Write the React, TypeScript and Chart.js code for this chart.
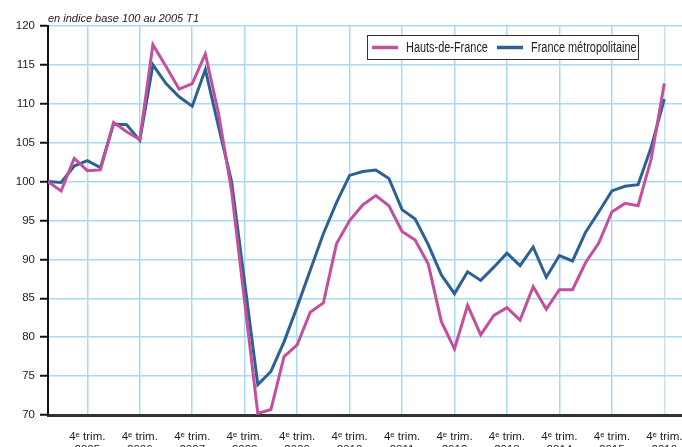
import React, { useEffect, useRef } from 'react';
import { Chart, registerables } from 'chart.js';

Chart.register(...registerables);

// ---- Data -------------------------------------------------------------
const years = ['2005', '2006', '2007', '2008', '2009', '2010', '2011', '2012', '2013', '2014', '2015', '2016'];
const quarterLabel = '4ᵉ trim.';
const seriesNames = ['Hauts-de-France', 'France métropolitaine'];
const unitNote = 'en indice base 100 au 2005 T1';

// quarterly index, 2005 T1 .. 2016 T4
const hautsDeFrance = [
  100, 98.8, 103.0, 101.4, 101.5, 107.6, 106.4, 105.4,
  117.6, 114.8, 111.9, 112.6, 116.4, 108.8, 98.8, 84.5,
  70.2, 70.7, 77.5, 79.0, 83.2, 84.4, 92.0, 95.0,
  97.0, 98.2, 96.9, 93.6, 92.5, 89.4, 82.0, 78.5,
  84.1, 80.3, 82.8, 83.8, 82.2, 86.5, 83.6, 86.1,
  86.1, 89.6, 92.1, 96.1, 97.2, 96.9, 102.9, 112.6,
];
const franceMetro = [
  100, 99.9, 102.0, 102.7, 101.8, 107.4, 107.3, 105.3,
  115.0, 112.6, 110.9, 109.7, 114.4, 107.1, 100.0, 87.0,
  73.9, 75.6, 79.4, 83.9, 88.6, 93.3, 97.3, 100.8,
  101.3, 101.5, 100.4, 96.4, 95.2, 91.9, 88.0, 85.6,
  88.4, 87.3, 89.0, 90.8, 89.2, 91.6, 87.7, 90.5,
  89.8, 93.5, 96.1, 98.8, 99.4, 99.6, 104.4, 110.6,
];
const yMin = 70;
const yMax = 120;
const yStep = 5;

// ---- Styles -----------------------------------------------------------
const FONT = '"Liberation Sans", Arial, Helvetica, sans-serif';
const PINK = '#c2509c';
const BLUE = '#2e6193';
const GRID = '#a9d9f3';
const W = 682;
const H = 470;

function narrowText(ctx: CanvasRenderingContext2D, text: string, x: number, y: number, sx: number) {
  ctx.save();
  ctx.translate(x, y);
  ctx.scale(sx, 1);
  ctx.fillText(text, 0, 0);
  ctx.restore();
}

const overlayPlugin = {
  id: 'overlay',
  afterDraw(chart: any) {
    const ctx = chart.ctx as CanvasRenderingContext2D;
    const ca = chart.chartArea;
    ctx.save();
    // unit note
    ctx.font = `italic 11px ${FONT}`;
    ctx.fillStyle = '#222';
    ctx.textAlign = 'left';
    ctx.textBaseline = 'alphabetic';
    ctx.fillText(unitNote, ca.left, 22);

    // legend box
    const bx = 367.5, by = 35.5, bw = 271, bh = 24;
    ctx.fillStyle = '#fff';
    ctx.fillRect(bx, by, bw, bh);
    ctx.strokeStyle = '#333';
    ctx.lineWidth = 1;
    ctx.strokeRect(bx, by, bw, bh);

    const items = chart.data.datasets.map((d: any) => ({ label: d.label, color: d.borderColor }));
    const starts = [372, 497];
    ctx.font = `14px ${FONT}`;
    ctx.textBaseline = 'middle';
    items.forEach((it: any, i: number) => {
      const x0 = starts[i];
      const yc = by + bh / 2;
      ctx.strokeStyle = it.color;
      ctx.lineWidth = 3.5;
      ctx.beginPath();
      ctx.moveTo(x0, yc);
      ctx.lineTo(x0 + 26, yc);
      ctx.stroke();
      ctx.fillStyle = '#222';
      narrowText(ctx, it.label, x0 + 34, yc + 0.5, 0.78);
    });
    ctx.restore();
  },
};

export default function App() {
  const ref = useRef<HTMLCanvasElement>(null);

  useEffect(() => {
    const toPoints = (arr: number[]) => arr.map((v, i) => ({ x: i, y: v }));
    const chart = new Chart(ref.current as HTMLCanvasElement, {
      type: 'line',
      data: {
        datasets: [
          {
            label: seriesNames[0],
            data: toPoints(hautsDeFrance),
            borderColor: PINK,
            backgroundColor: PINK,
            borderWidth: 3,
            pointRadius: 0,
            tension: 0,
            borderJoinStyle: 'miter',
          },
          {
            label: seriesNames[1],
            data: toPoints(franceMetro),
            borderColor: BLUE,
            backgroundColor: BLUE,
            borderWidth: 3,
            pointRadius: 0,
            tension: 0,
            borderJoinStyle: 'miter',
          },
        ],
      },
      options: {
        animation: false,
        responsive: false,
        devicePixelRatio: 1,
        layout: { padding: { top: 26, left: 0, right: 0, bottom: 0 } },
        plugins: {
          legend: { display: false },
          tooltip: { enabled: false },
          title: { display: false },
        },
        scales: {
          x: {
            type: 'linear',
            min: 0,
            max: 48.35,
            afterBuildTicks: (s: any) => {
              s.ticks = years.map((_, k) => ({ value: k * 4 + 3 }));
            },
            afterFit: (s: any) => {
              s.height = H - 415;
              s.paddingLeft = 0;
              s.paddingRight = 0;
            },
            grid: {
              color: (c: any) => (c.tick && c.tick.value === 47 ? '#cfe2ec' : GRID),
              lineWidth: 1.5,
              drawTicks: false,
            },
            border: { color: '#333', width: 3 },
            ticks: {
              autoSkip: false,
              maxRotation: 0,
              minRotation: 0,
              padding: 16,
              color: '#222',
              font: { family: FONT, size: 11.5, lineHeight: '12.5px' },
              callback: (v: any) => {
                const k = Math.round((Number(v) - 3) / 4);
                return [quarterLabel, years[k]];
              },
            },
          },
          y: {
            min: yMin,
            max: yMax,
            afterFit: (s: any) => {
              s.width = 48;
            },
            grid: {
              color: (c: any) => (c.tick && c.tick.value === yMin ? 'rgba(0,0,0,0)' : GRID),
              lineWidth: 1.5,
              tickColor: '#111',
              tickLength: 8,
              tickWidth: 2,
            },
            border: { color: '#111', width: 2 },
            ticks: {
              stepSize: yStep,
              padding: 5,
              color: '#222',
              font: { family: FONT, size: 11.5 },
            },
          },
        },
      } as any,
      plugins: [overlayPlugin],
    });
    return () => chart.destroy();
  }, []);

  return (
    <div
      style={{
        position: 'fixed',
        left: 0,
        top: 0,
        width: W,
        height: 447,
        overflow: 'hidden',
        background: '#fff',
      }}
    >
      <canvas ref={ref} width={W} height={H} style={{ display: 'block', width: W, height: H }} />
    </div>
  );
}
